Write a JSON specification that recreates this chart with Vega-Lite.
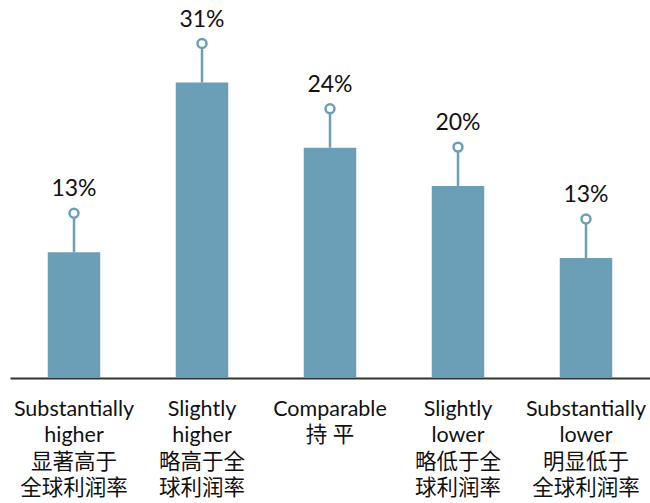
{
  "$schema": "https://vega.github.io/schema/vega-lite/v6.json",
  "width": 640,
  "height": 378,
  "autosize": "none",
  "padding": {"left": 10, "top": 0, "right": 0, "bottom": 125},
  "background": "white",
  "config": {"view": {"stroke": null}, "font": "Lato"},
  "data": {
    "values": [
      {"category": "Substantially|higher|显著高于|全球利润率", "value": 13.1, "label": "13%"},
      {"category": "Slightly|higher|略高于全|球利润率", "value": 30.8, "label": "31%"},
      {"category": "Comparable|持 平", "value": 24.0, "label": "24%"},
      {"category": "Slightly|lower|略低于全|球利润率", "value": 20.0, "label": "20%"},
      {"category": "Substantially|lower|明显低于|全球利润率", "value": 12.5, "label": "13%"}
    ]
  },
  "encoding": {
    "x": {
      "field": "category",
      "type": "nominal",
      "sort": null,
      "scale": {"paddingInner": 0.59, "paddingOuter": 0.295},
      "axis": {
        "title": null,
        "labelExpr": "split(datum.label, '|')",
        "labelAngle": 0,
        "labelFont": "Lato, Noto Sans CJK SC",
        "labelFontSize": 21.5,
        "labelColor": "#111",
        "labelLineHeight": 26.5,
        "labelPadding": 20,
        "labelBaseline": "top",
        "ticks": false,
        "domainColor": "#333",
        "domainWidth": 2,
        "labelLimit": 200
      }
    },
    "y": {
      "field": "value",
      "type": "quantitative",
      "scale": {"domain": [0, 39.4], "nice": false},
      "axis": null
    }
  },
  "layer": [
    {"mark": {"type": "bar", "color": "#6a9fb7"}},
    {
      "mark": {"type": "rule", "color": "#6a9fb7", "strokeWidth": 2.5, "y2Offset": -34},
      "encoding": {"y2": {"field": "value"}}
    },
    {
      "mark": {"type": "point", "shape": "circle", "filled": true, "fill": "white", "stroke": "#6a9fb7", "strokeWidth": 2.5, "size": 80, "yOffset": -39, "opacity": 1}
    },
    {
      "mark": {"type": "text", "fontSize": 23, "font": "Lato", "color": "#111", "baseline": "alphabetic", "dy": -56},
      "encoding": {"text": {"field": "label"}}
    }
  ]
}
